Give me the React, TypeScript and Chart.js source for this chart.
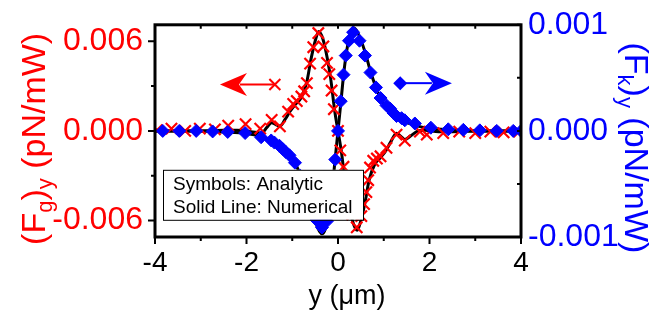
import React, { useEffect, useRef } from "react";
import { Chart, registerables } from "chart.js";
Chart.register(...registerables);

const FONT = "'Liberation Sans', Arial, Helvetica, sans-serif";
const RED = "#ff0000";
const BLUE = "#0000ff";

// ---- Data (y in µm, forces in pN/mW) ----
// (Fg)y analytic symbols (red crosses)
const gAnalyticX = [-3.96, -3.64, -3.34, -3.02, -2.69, -2.40, -2.02, -1.70, -1.45, -1.27, -1.09, -0.98, -0.90, -0.80, -0.74, -0.68, -0.61, -0.54, -0.43, -0.32, -0.24, -0.19, -0.14, -0.09, 0.00, 0.05, 0.12, 0.17, 0.22, 0.31, 0.41, 0.51, 0.57, 0.62, 0.66, 0.70, 0.77, 0.85, 0.93, 1.06, 1.28, 1.46, 1.79, 1.94, 2.30, 2.65, 3.00, 3.33, 3.62, 3.96];
const gAnalyticY = [0.05e-3, 0.15e-3, 0.0, 0.15e-3, 0.1e-3, 0.35e-3, 0.45e-3, 0.15e-3, 0.74e-3, 0.30e-3, 1.29e-3, 1.80e-3, 2.00e-3, 2.30e-3, 2.65e-3, 3.20e-3, 4.50e-3, 5.60e-3, 6.55e-3, 5.65e-3, 4.55e-3, 3.80e-3, 2.70e-3, 1.45e-3, 0.0, -1.30e-3, -2.40e-3, -3.70e-3, -4.50e-3, -5.60e-3, -6.45e-3, -5.70e-3, -4.90e-3, -4.10e-3, -3.30e-3, -2.45e-3, -2.00e-3, -1.85e-3, -1.70e-3, -1.13e-3, -0.25e-3, -0.65e-3, -0.05e-3, -0.25e-3, -0.15e-3, -0.05e-3, -0.15e-3, -0.05e-3, -0.10e-3, -0.05e-3];

// (Fg)y numerical line
const gNumX = [-4.0, -3.0, -2.5, -2.2, -1.9, -1.67, -1.55, -1.45, -1.36, -1.27, -1.15, -1.05, -0.94, -0.80, -0.68, -0.59, -0.50, -0.42, -0.33, -0.23, -0.16, -0.07, 0.0, 0.07, 0.16, 0.23, 0.33, 0.42, 0.50, 0.59, 0.68, 0.80, 0.94, 1.05, 1.15, 1.28, 1.37, 1.46, 1.58, 1.75, 1.9, 2.2, 2.5, 3.0, 4.0];
const gNumY = [0.0, 0.0, 0.05e-3, 0.05e-3, -0.05e-3, -0.15e-3, 0.25e-3, 0.55e-3, 0.42e-3, 0.32e-3, 0.80e-3, 1.30e-3, 1.75e-3, 2.25e-3, 3.30e-3, 4.80e-3, 6.00e-3, 6.65e-3, 6.15e-3, 4.80e-3, 3.50e-3, 1.30e-3, 0.0, -1.30e-3, -3.50e-3, -4.80e-3, -6.15e-3, -6.65e-3, -6.00e-3, -4.80e-3, -3.30e-3, -2.25e-3, -1.75e-3, -1.30e-3, -0.75e-3, -0.15e-3, -0.35e-3, -0.58e-3, -0.35e-3, 0.0, 0.05e-3, -0.05e-3, -0.05e-3, 0.0, 0.0];

// (Fk)y analytic symbols (blue diamonds)
const kAnalyticX = [-3.83, -3.47, -3.10, -2.74, -2.41, -2.03, -1.68, -1.46, -1.39, -1.28, -1.21, -1.14, -1.06, -0.94, -0.83, -0.71, -0.59, -0.47, -0.40, -0.35, -0.24, -0.17, -0.12, -0.06, 0.0, 0.06, 0.12, 0.17, 0.24, 0.33, 0.47, 0.59, 0.71, 0.83, 0.93, 1.06, 1.14, 1.21, 1.28, 1.39, 1.46, 1.68, 2.03, 2.41, 2.74, 3.10, 3.47, 3.83, 4.0];
const kAnalyticY = [0.0, 0.0, 0.0, -0.005e-3, -0.01e-3, -0.02e-3, -0.06e-3, -0.09e-3, -0.11e-3, -0.14e-3, -0.17e-3, -0.20e-3, -0.23e-3, -0.30e-3, -0.42e-3, -0.55e-3, -0.71e-3, -0.84e-3, -0.86e-3, -0.91e-3, -0.85e-3, -0.71e-3, -0.53e-3, -0.27e-3, 0.0, 0.28e-3, 0.53e-3, 0.71e-3, 0.85e-3, 0.93e-3, 0.85e-3, 0.71e-3, 0.55e-3, 0.41e-3, 0.31e-3, 0.24e-3, 0.21e-3, 0.17e-3, 0.14e-3, 0.12e-3, 0.10e-3, 0.07e-3, 0.03e-3, 0.015e-3, 0.01e-3, 0.005e-3, 0.0, 0.0, 0.0];

// (Fk)y numerical line
const kNumX = [-4.0, -3.0, -2.5, -2.0, -1.7, -1.45, -1.25, -1.1, -0.95, -0.83, -0.71, -0.60, -0.48, -0.40, -0.35, -0.28, -0.20, -0.13, -0.07, 0.0, 0.07, 0.13, 0.20, 0.28, 0.35, 0.40, 0.48, 0.60, 0.71, 0.83, 0.95, 1.1, 1.25, 1.45, 1.7, 2.0, 2.5, 3.0, 4.0];
const kNumY = [0.0, 0.0, -0.01e-3, -0.025e-3, -0.05e-3, -0.09e-3, -0.14e-3, -0.20e-3, -0.29e-3, -0.41e-3, -0.56e-3, -0.73e-3, -0.88e-3, -0.95e-3, -0.97e-3, -0.93e-3, -0.78e-3, -0.56e-3, -0.30e-3, 0.0, 0.30e-3, 0.56e-3, 0.78e-3, 0.93e-3, 0.97e-3, 0.95e-3, 0.88e-3, 0.73e-3, 0.56e-3, 0.41e-3, 0.29e-3, 0.20e-3, 0.14e-3, 0.09e-3, 0.05e-3, 0.025e-3, 0.01e-3, 0.0, 0.0];

// ---- Axes ----
const xTicks = [-4, -2, 0, 2, 4];
const xMinorTicks = [-3, -1, 1, 3];
const gTicks = [-0.006, 0, 0.006];
const gMinorTicks = [-0.003, 0.003];
const kTicks = [-0.001, 0, 0.001];
const kMinorTicks = [-0.0005, 0.0005];
const X_MIN = -4, X_MAX = 4;
const G_MIN = -0.0071, G_MAX = 0.0071;
const K_MIN = -0.001, K_MAX = 0.001;

// ---- Annotations (data coordinates) ----
const gArrow = { tipX: -2.58, tailX: -1.38, y: 0.0031 };
const kArrow = { tailX: 1.36, tipX: 2.49, y: 0.00045 };
const legendLines = ["Symbols: Analytic", "Solid Line: Numerical"];

const zip = (xs: number[], ys: number[]) => xs.map((x, i) => ({ x, y: ys[i] }));

function drawArrowHead(ctx: CanvasRenderingContext2D, tipX: number, y: number, dir: number) {
  const len = 27, half = 11.5, notch = 8;
  ctx.beginPath();
  ctx.moveTo(tipX, y);
  ctx.lineTo(tipX + dir * len, y - half);
  ctx.lineTo(tipX + dir * (len - notch), y);
  ctx.lineTo(tipX + dir * len, y + half);
  ctx.closePath();
  ctx.fill();
}

function drawSegments(ctx: CanvasRenderingContext2D, segs: { t: string; sub: boolean }[], main: number, sub: number, subShift: number) {
  let total = 0;
  for (const s of segs) {
    ctx.font = `${s.sub ? sub : main}px ${FONT}`;
    total += ctx.measureText(s.t).width;
  }
  let x = -total / 2;
  for (const s of segs) {
    ctx.font = `${s.sub ? sub : main}px ${FONT}`;
    ctx.fillText(s.t, x, s.sub ? subShift : 0);
    x += ctx.measureText(s.t).width;
  }
}

const decorPlugin = {
  id: "decor",
  afterDatasetsDraw(chart: any) {
    const { ctx, chartArea: a, scales } = chart;
    const sx = scales.x, sg = scales.y, sk = scales.y2;
    ctx.save();

    // legend box
    const bx = a.left + 8, by = a.top + 145, bw = 200, bh = 50;
    ctx.fillStyle = "#fff";
    ctx.fillRect(bx, by, bw, bh);
    ctx.lineWidth = 1;
    ctx.strokeStyle = "#000";
    ctx.strokeRect(bx + 0.5, by + 0.5, bw, bh);
    ctx.fillStyle = "#000";
    ctx.font = `19px ${FONT}`;
    ctx.textBaseline = "middle";
    ctx.textAlign = "left";
    ctx.fillText(legendLines[0], bx + 10, by + 15);
    ctx.fillText(legendLines[1], bx + 10, by + 38);

    // red arrow (points left, to the left axis)
    const ry = sg.getPixelForValue(gArrow.y);
    const rTip = sx.getPixelForValue(gArrow.tipX);
    const rTail = sx.getPixelForValue(gArrow.tailX);
    ctx.strokeStyle = RED; ctx.fillStyle = RED; ctx.lineWidth = 2;
    ctx.beginPath(); ctx.moveTo(rTip + 20, ry); ctx.lineTo(rTail, ry); ctx.stroke();
    drawArrowHead(ctx, rTip, ry, 1);
    const c = 5.5;
    ctx.beginPath();
    ctx.moveTo(rTail - c, ry - c); ctx.lineTo(rTail + c, ry + c);
    ctx.moveTo(rTail - c, ry + c); ctx.lineTo(rTail + c, ry - c);
    ctx.stroke();

    // blue arrow (points right, to the right axis)
    const ky = sk.getPixelForValue(kArrow.y);
    const kTip = sx.getPixelForValue(kArrow.tipX);
    const kTail = sx.getPixelForValue(kArrow.tailX);
    ctx.strokeStyle = BLUE; ctx.fillStyle = BLUE;
    ctx.beginPath(); ctx.moveTo(kTail, ky); ctx.lineTo(kTip - 20, ky); ctx.stroke();
    drawArrowHead(ctx, kTip, ky, -1);
    const d = 7;
    ctx.beginPath();
    ctx.moveTo(kTail - d, ky); ctx.lineTo(kTail, ky - d); ctx.lineTo(kTail + d, ky); ctx.lineTo(kTail, ky + d);
    ctx.closePath(); ctx.fill();

    // frame
    ctx.strokeStyle = "#000";
    ctx.lineWidth = 3;
    ctx.strokeRect(a.left, a.top, a.right - a.left, a.bottom - a.top);

    // ticks
    ctx.lineWidth = 2;
    ctx.beginPath();
    for (const v of xTicks) {
      const p = sx.getPixelForValue(v);
      ctx.moveTo(p, a.bottom); ctx.lineTo(p, a.bottom + 7);
      ctx.moveTo(p, a.top); ctx.lineTo(p, a.top + 4);
    }
    for (const v of xMinorTicks) {
      const p = sx.getPixelForValue(v);
      ctx.moveTo(p, a.bottom); ctx.lineTo(p, a.bottom + 4);
      ctx.moveTo(p, a.top); ctx.lineTo(p, a.top + 4);
    }
    for (const v of gTicks) {
      const p = sg.getPixelForValue(v);
      ctx.moveTo(a.left, p); ctx.lineTo(a.left - 7, p);
    }
    for (const v of gMinorTicks) {
      const p = sg.getPixelForValue(v);
      ctx.moveTo(a.left, p); ctx.lineTo(a.left - 4, p);
    }
    for (const v of kTicks) {
      const p = sk.getPixelForValue(v);
      ctx.moveTo(a.right, p); ctx.lineTo(a.right - 4, p);
    }
    for (const v of kMinorTicks) {
      const p = sk.getPixelForValue(v);
      ctx.moveTo(a.right, p); ctx.lineTo(a.right - 4, p);
    }
    ctx.stroke();
    ctx.restore();
  },
  afterDraw(chart: any) {
    const { ctx, chartArea: a } = chart;
    ctx.save();
    ctx.textBaseline = "alphabetic";
    ctx.textAlign = "left";
    // left title
    ctx.save();
    ctx.fillStyle = RED;
    ctx.translate(45, (a.top + a.bottom) / 2 + 8);
    ctx.rotate(-Math.PI / 2);
    drawSegments(ctx, [
      { t: "(F", sub: false }, { t: "g", sub: true }, { t: ")", sub: false },
      { t: "y", sub: true }, { t: " (pN/mW)", sub: false },
    ], 34, 22, 7);
    ctx.restore();
    // right title
    ctx.save();
    ctx.fillStyle = BLUE;
    ctx.translate(625, (a.top + a.bottom) / 2 + 17);
    ctx.rotate(Math.PI / 2);
    drawSegments(ctx, [
      { t: "(F", sub: false }, { t: "k", sub: true }, { t: ")", sub: false },
      { t: "y", sub: true }, { t: " (pN/mW)", sub: false },
    ], 34, 22, 7);
    ctx.restore();
    // x title
    ctx.fillStyle = "#000";
    ctx.font = `27px ${FONT}`;
    ctx.textAlign = "center";
    ctx.textBaseline = "middle";
    ctx.fillText("y (\u03bcm)", (a.left + a.right) / 2 + 9, 297);
    ctx.restore();
  },
};

export default function App() {
  const ref = useRef<HTMLCanvasElement | null>(null);
  useEffect(() => {
    if (!ref.current) return;
    const chart = new Chart(ref.current, {
      type: "scatter",
      data: {
        datasets: [
          {
            label: "(Fk)y analytic",
            data: zip(kAnalyticX, kAnalyticY),
            yAxisID: "y2",
            showLine: false,
            pointStyle: "rectRot",
            pointRadius: 6.5,
            backgroundColor: BLUE,
            borderColor: BLUE,
            borderWidth: 1,
            order: 0,
          },
          {
            label: "(Fg)y analytic",
            data: zip(gAnalyticX, gAnalyticY),
            yAxisID: "y",
            showLine: false,
            pointStyle: "crossRot",
            pointRadius: 8,
            borderColor: RED,
            backgroundColor: RED,
            borderWidth: 2.2,
            order: 1,
          },
          {
            label: "(Fk)y numerical",
            data: zip(kNumX, kNumY),
            yAxisID: "y2",
            showLine: true,
            pointRadius: 0,
            borderColor: "#000",
            borderWidth: 3,
            cubicInterpolationMode: "monotone",
            order: 2,
          },
          {
            label: "(Fg)y numerical",
            data: zip(gNumX, gNumY),
            yAxisID: "y",
            showLine: true,
            pointRadius: 0,
            borderColor: "#000",
            borderWidth: 3,
            cubicInterpolationMode: "monotone",
            order: 3,
          },
        ],
      },
      options: {
        responsive: false,
        animation: false,
        events: [],
        layout: { padding: { top: 22, left: 0, right: 0, bottom: 0 } },
        plugins: { legend: { display: false }, tooltip: { enabled: false } },
        scales: {
          x: {
            type: "linear",
            position: "bottom",
            min: X_MIN,
            max: X_MAX,
            afterBuildTicks: (s: any) => { s.ticks = xTicks.map((v) => ({ value: v })); },
            afterFit: (s: any) => { s.height = 86; },
            ticks: {
              color: "#000",
              font: { family: FONT, size: 28 },
              padding: 9,
              autoSkip: false,
              maxRotation: 0,
              callback: (v: any) => String(v),
            },
            grid: { display: false, drawTicks: false },
            border: { display: false },
          },
          y: {
            type: "linear",
            position: "left",
            min: G_MIN,
            max: G_MAX,
            afterBuildTicks: (s: any) => { s.ticks = gTicks.map((v) => ({ value: v })); },
            afterFit: (s: any) => { s.width = 155; },
            ticks: {
              color: RED,
              font: { family: FONT, size: 32, lineHeight: 0.8 },
              padding: 12,
              autoSkip: false,
              callback: (v: any) => Number(v).toFixed(3),
            },
            grid: { display: false, drawTicks: false },
            border: { display: false },
          },
          y2: {
            type: "linear",
            position: "right",
            min: K_MIN,
            max: K_MAX,
            afterBuildTicks: (s: any) => { s.ticks = kTicks.map((v) => ({ value: v })); },
            afterFit: (s: any) => { s.width = 137; },
            ticks: {
              color: BLUE,
              font: { family: FONT, size: 32, lineHeight: 0.8 },
              padding: 7,
              autoSkip: false,
              callback: (v: any) => Number(v).toFixed(3),
            },
            grid: { display: false, drawTicks: false },
            border: { display: false },
          },
        },
      } as any,
      plugins: [decorPlugin],
    });
    return () => chart.destroy();
  }, []);
  return (
    <div style={{ position: "absolute", left: 0, top: 0, width: 658, height: 323, background: "#fff" }}>
      <canvas ref={ref} width={658} height={323} />
    </div>
  );
}
